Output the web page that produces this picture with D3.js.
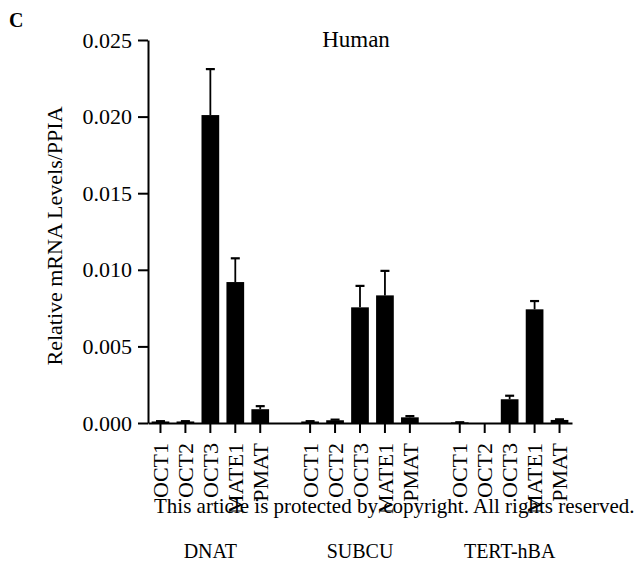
<!DOCTYPE html>
<html>
<head>
<meta charset="utf-8">
<script src="https://cdn.jsdelivr.net/npm/d3@7"></script>
<style>
  body { margin: 0; background: #fff; }
  svg text { font-family: "Liberation Serif", "Times New Roman", serif; }
</style>
</head>
<body>
<div id="chart"></div>
<script>
// chart data
var groups = ['DNAT', 'SUBCU', 'TERT-hBA'];
var genes = ['OCT1', 'OCT2', 'OCT3', 'MATE1', 'PMAT'];
var dnatMean = [0.0001, 0.0001, 0.0201, 0.0092, 0.0009];
var dnatErr = [0.00002, 0.00002, 0.0030, 0.00155, 0.0002];
var subcuMean = [0.0001, 0.00018, 0.00755, 0.00833, 0.00037];
var subcuErr = [0.00002, 0.00004, 0.0014, 0.0016, 0.00008];
var tertMean = [0.00004, 0.0, 0.00155, 0.00742, 0.0002];
var tertErr = [0.00001, 0.0, 0.00023, 0.00054, 0.00004];
var yTicks = [0, 0.005, 0.010, 0.015, 0.020, 0.025];

var means = [dnatMean, subcuMean, tertMean];
var errs = [dnatErr, subcuErr, tertErr];
var serif = '"Liberation Serif", "Times New Roman", serif';

// flatten into bars, one empty slot between groups
var bars = [];
groups.forEach(function(g, gi) {
  genes.forEach(function(gene, i) {
    bars.push({slot: gi * 6 + i, group: g, gene: gene, mean: means[gi][i], err: errs[gi][i]});
  });
});
var slots = d3.range(17);

var width = 642, height = 561;
var svg = d3.select('#chart').append('svg')
  .attr('width', width)
  .attr('height', height);

var x = d3.scaleBand().domain(slots).range([148, 572]).paddingInner(0.29).paddingOuter(0.145);
var y = d3.scaleLinear().domain([0, 0.025]).range([423, 40]);

// bars
svg.selectAll('.bar')
  .data(bars)
  .enter().append('rect')
  .attr('class', 'bar')
  .attr('x', function(d) { return x(d.slot); })
  .attr('width', x.bandwidth())
  .attr('y', function(d) { return y(d.mean); })
  .attr('height', function(d) { return y(0) - y(d.mean); })
  .attr('fill', '#000');

// error bars
var eb = svg.selectAll('.err')
  .data(bars.filter(function(d) { return d.err > 0; }))
  .enter().append('g')
  .attr('class', 'err')
  .attr('stroke', '#000');
eb.append('line')
  .attr('x1', function(d) { return x(d.slot) + x.bandwidth() / 2; })
  .attr('x2', function(d) { return x(d.slot) + x.bandwidth() / 2; })
  .attr('y1', function(d) { return y(d.mean); })
  .attr('y2', function(d) { return y(d.mean + d.err); })
  .attr('stroke-width', 1.8);
eb.append('line')
  .attr('x1', function(d) { return x(d.slot) + x.bandwidth() / 2 - 4.5; })
  .attr('x2', function(d) { return x(d.slot) + x.bandwidth() / 2 + 4.5; })
  .attr('y1', function(d) { return y(d.mean + d.err); })
  .attr('y2', function(d) { return y(d.mean + d.err); })
  .attr('stroke-width', 2.2);

// y axis
var yAxis = svg.append('g')
  .attr('transform', 'translate(148,0)')
  .call(d3.axisLeft(y).tickValues(yTicks).tickFormat(d3.format('.3f')).tickSize(10).tickSizeOuter(0).tickPadding(6));
yAxis.selectAll('text').attr('fill', '#000').style('font-family', serif).style('font-size', '22px');
yAxis.selectAll('line, path').attr('stroke', '#000').attr('stroke-width', 2);

// x axis
var xAxis = svg.append('g')
  .attr('transform', 'translate(0,423)')
  .call(d3.axisBottom(x).tickSize(10).tickSizeOuter(0)
    .tickValues(bars.map(function(d) { return d.slot; }))
    .tickFormat(function(s) { return bars.find(function(b) { return b.slot === s; }).gene; }));
xAxis.selectAll('line, path').attr('stroke', '#000').attr('stroke-width', 2);
xAxis.selectAll('text')
  .attr('fill', '#000')
  .style('font-family', serif)
  .style('font-size', '22px')
  .attr('text-anchor', 'end')
  .attr('transform', 'rotate(-90)')
  .attr('x', -20)
  .attr('y', 0)
  .attr('dy', '0.35em');

// group labels
svg.selectAll('.grp')
  .data(groups)
  .enter().append('text')
  .attr('class', 'grp')
  .attr('x', function(g, gi) { return x(gi * 6 + 2) + x.bandwidth() / 2; })
  .attr('y', 558)
  .attr('text-anchor', 'middle')
  .attr('font-size', 20)
  .text(function(g) { return g; });

// y label
svg.append('text')
  .attr('transform', 'translate(62,236) rotate(-90)')
  .attr('text-anchor', 'middle')
  .attr('font-size', 22)
  .text('Relative mRNA Levels/PPIA');

// title
svg.append('text')
  .attr('x', 356)
  .attr('y', 47)
  .attr('text-anchor', 'middle')
  .attr('font-size', 23)
  .text('Human');

// panel letter
svg.append('text')
  .attr('x', 9)
  .attr('y', 27)
  .attr('font-size', 20)
  .attr('font-weight', 'bold')
  .text('C');

// copyright notice
svg.append('text')
  .attr('x', 154)
  .attr('y', 513)
  .attr('font-size', 21)
  .text('This article is protected by copyright. All rights reserved.');
</script>
</body>
</html>
